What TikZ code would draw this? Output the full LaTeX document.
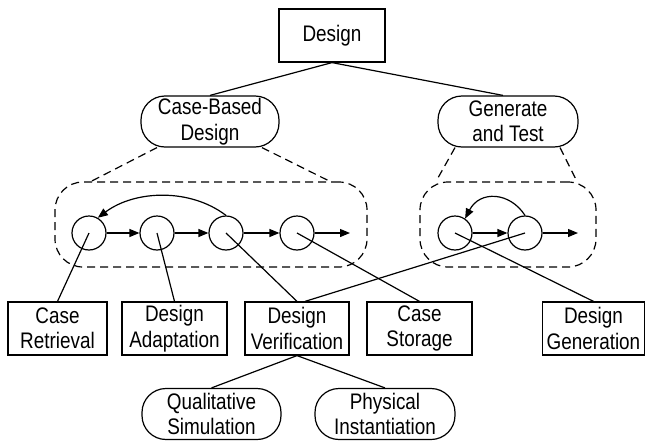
\documentclass[tikz,border=0pt]{standalone}
\usepackage{fontspec}
\setmainfont{Liberation Sans}[FakeStretch=0.84]
\usetikzlibrary{arrows.meta}
\newcommand\fsz{\fontsize{22.5}{25.5}\selectfont}
\begin{document}
\begin{tikzpicture}[x=1pt,y=-1pt,line width=1.2pt,
  box/.style={draw,rectangle,align=center,inner sep=0pt,font=\fsz,minimum height=53pt},
  oval/.style={draw,rectangle,rounded corners=24pt,align=center,inner sep=0pt,font=\fsz,minimum height=51pt},
  dbox/.style={draw,rectangle,rounded corners=28pt,dash pattern=on 8pt off 5pt,minimum height=85pt},
  dline/.style={dash pattern=on 8pt off 5pt},
  stepc/.style={draw,circle,minimum size=34pt,inner sep=0pt},
  arr/.style={-{Triangle[length=10pt,width=8pt]}}]
\useasboundingbox (0,0) rectangle (646,442);
% top
\node[box,minimum width=106pt] (design) at (332,35.5) {Design};
\node[oval,minimum width=138pt] (cbd) at (210,121.5) {Case-Based\\Design};
\node[oval,minimum width=140pt] (gat) at (508,121.5) {Generate\\and Test};
\draw (design.south) -- (cbd.north);
\draw (design.south) -- ([xshift=-5pt]gat.north);
% dashed boxes
\node[dbox,minimum width=312pt] (lbox) at (211,224.5) {};
\node[dbox,minimum width=176pt] (rbox) at (508,224.5) {};
\draw[dline] ([xshift=-53pt]cbd.south) -- ([xshift=-120pt]lbox.north);
\draw[dline] ([xshift=52pt]cbd.south) -- ([xshift=119pt]lbox.north);
\draw[dline] ([xshift=-53pt]gat.south) -- ([xshift=-72pt]rbox.north);
\draw[dline] ([xshift=52pt]gat.south) -- ([xshift=69pt]rbox.north);
% circles
\node[stepc] (c1) at (89,233) {};
\node[stepc] (c2) at (157,233) {};
\node[stepc] (c3) at (226,233) {};
\node[stepc] (c4) at (297,233) {};
\node[stepc] (c5) at (455,233) {};
\node[stepc] (c6) at (525,233) {};
\coordinate (o4) at (350,233);
\coordinate (o6) at (578,233);
\draw[arr] (c1) -- (c2);
\draw[arr] (c2) -- (c3);
\draw[arr] (c3) -- (c4);
\draw[arr] (c4) -- (o4);
\draw[arr] (c5) -- (c6);
\draw[arr] (c6) -- (o6);
\draw[arr] (c3.north) .. controls (190,188) and (135,190) .. (c1.60);
\draw[arr] (c6.north) .. controls (510,192) and (480,190) .. (c5.55);
% lower boxes
\node[box,minimum width=99pt] (cr) at (57.5,328.5) {Case\\Retrieval};
\node[box,minimum width=105pt] (da) at (174.5,328.5) {Design\\Adaptation};
\node[box,minimum width=104pt] (dv) at (297,328.5) {Design\\Verification};
\node[box,minimum width=105pt] (cs) at (419.5,328.5) {Case\\Storage};
\node[box,minimum width=102pt] (dg) at (593.5,328.5) {Design\\Generation};
\draw (c1.center) -- (cr.north);
\draw (c2.center) -- (da.north);
\draw (c3.center) -- (dv.north);
\draw (c4.center) -- (cs.north);
\draw (c6.center) -- ([xshift=8pt]dv.north);
\draw (c5.center) -- (dg.north);
% bottom ovals
\node[oval,minimum width=139pt] (qs) at (211.5,414) {Qualitative\\Simulation};
\node[oval,minimum width=140pt] (pi) at (385,414) {Physical\\Instantiation};
\draw (dv.south) -- (qs.north);
\draw (dv.south) -- (pi.north);
\end{tikzpicture}
\end{document}
